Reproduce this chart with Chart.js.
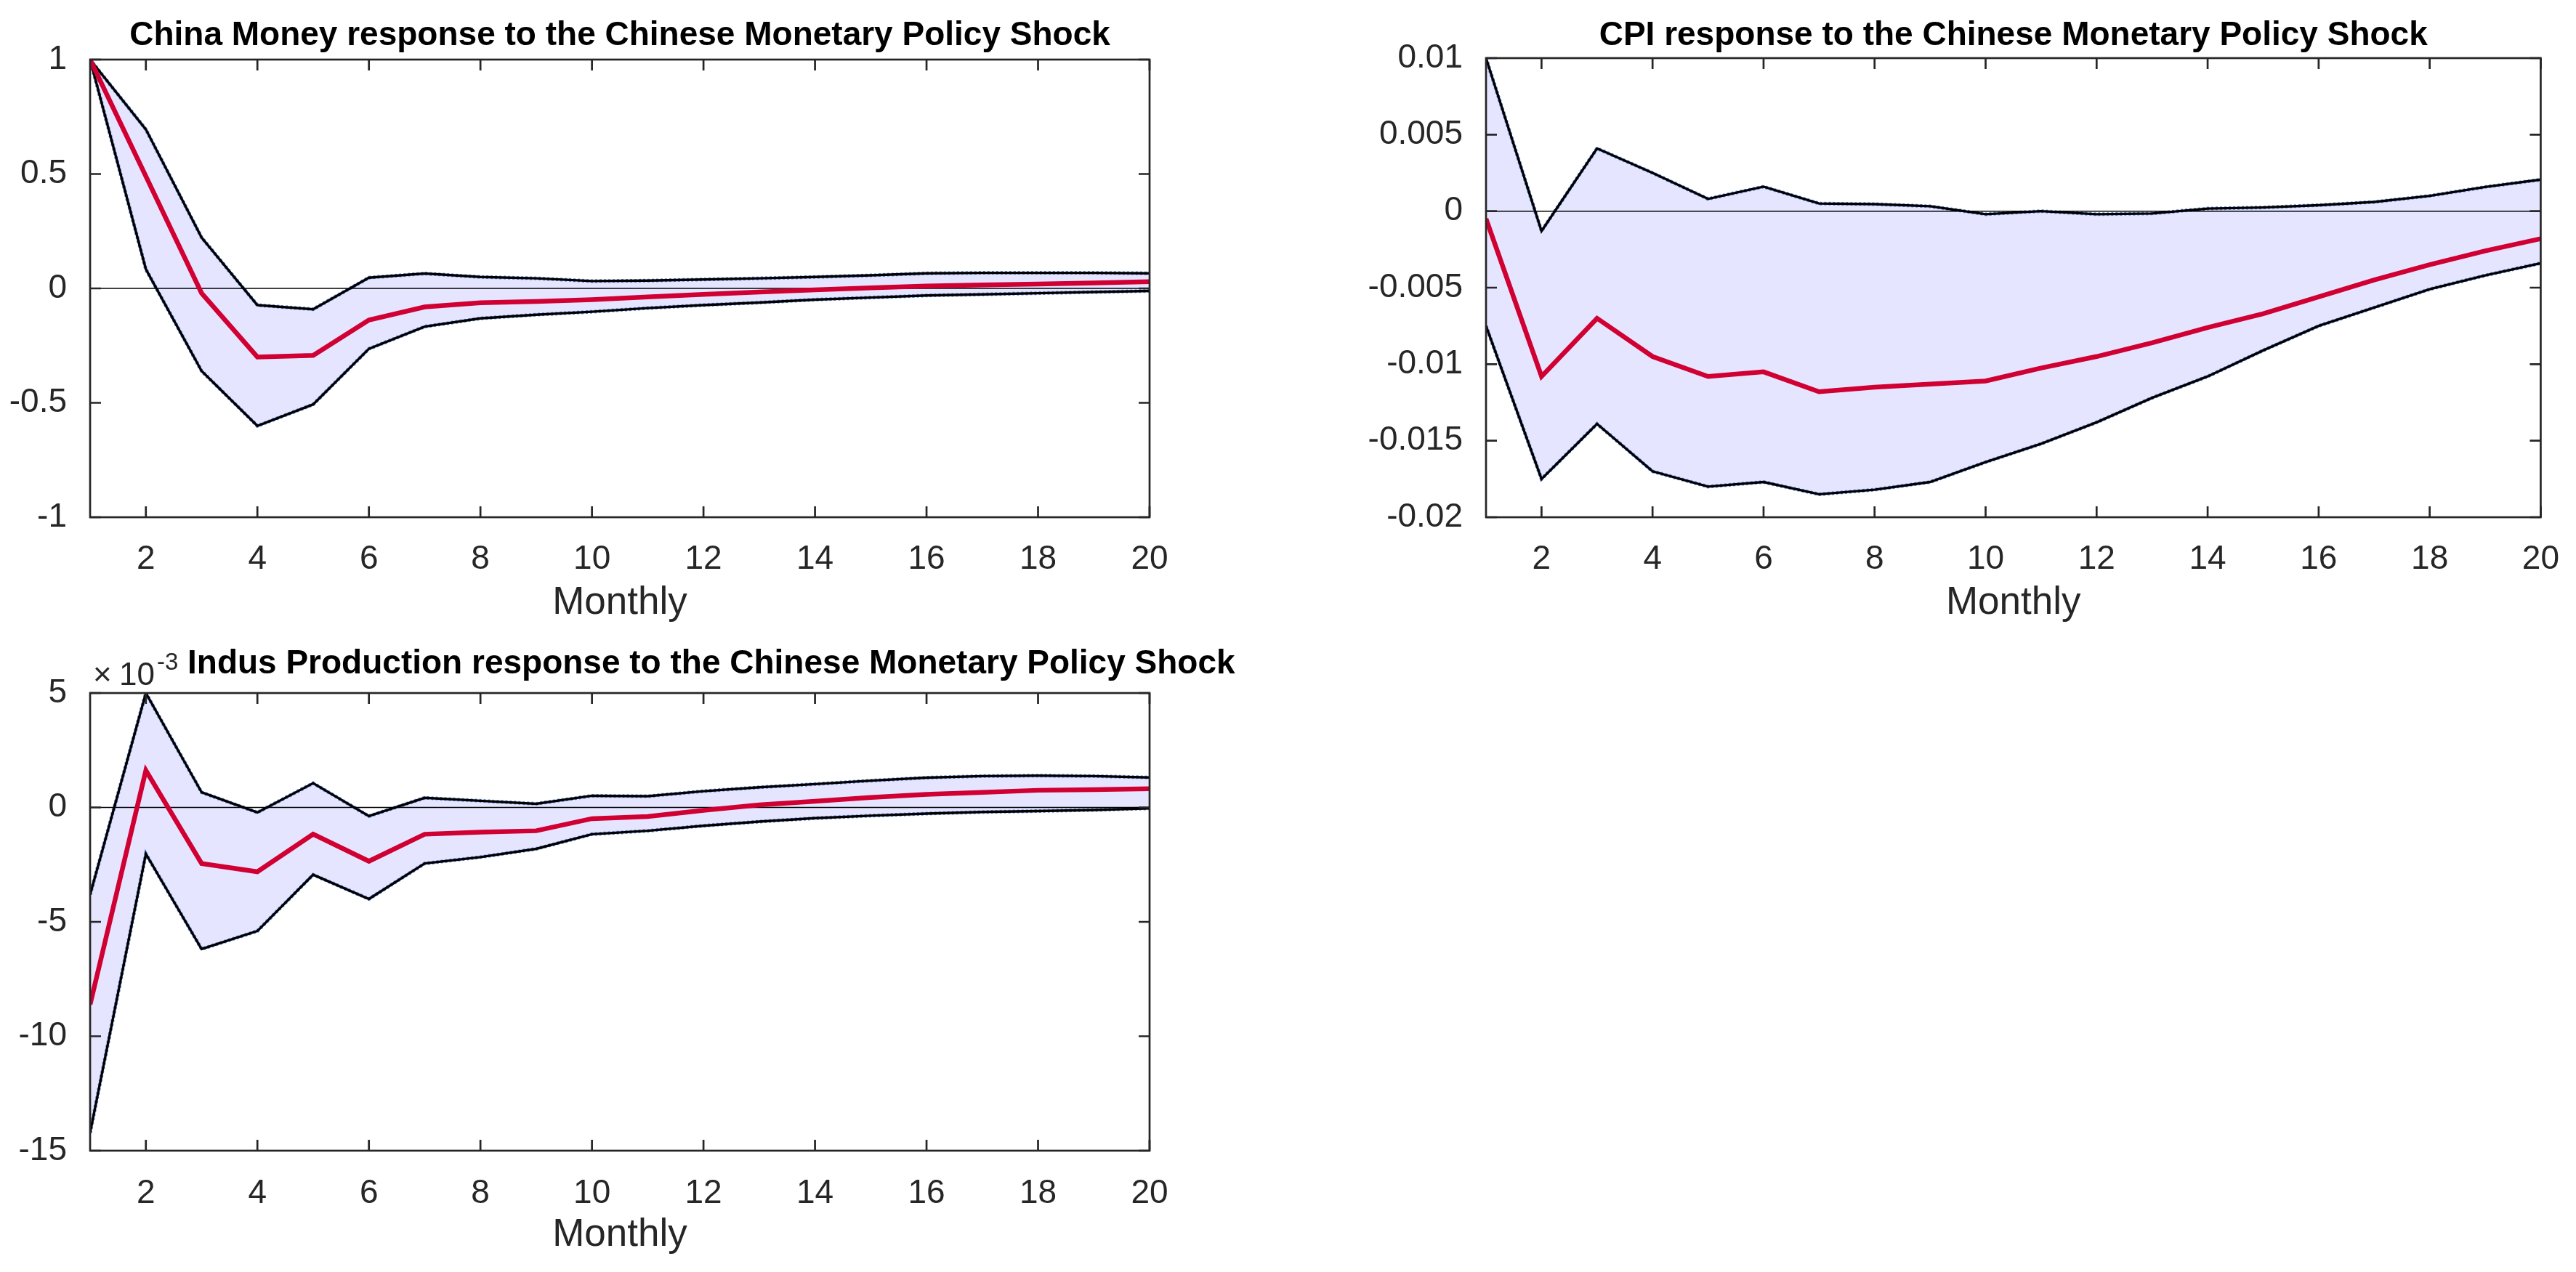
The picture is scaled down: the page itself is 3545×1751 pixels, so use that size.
<!DOCTYPE html>
<html>
<head>
<meta charset="utf-8">
<title>Impulse responses to the Chinese monetary policy shock</title>
<script src="https://cdn.jsdelivr.net/npm/chart.js@4.4.1/dist/chart.umd.min.js"></script>
<style>
  html, body { margin: 0; padding: 0; background: #fff; overflow: hidden; }
  body { width: 3545px; height: 1751px; position: relative; }
  canvas { position: absolute; }
</style>
</head>
<body>
<canvas id="money" width="1700" height="870" style="left:0;top:0"></canvas>
<canvas id="cpi" width="1795" height="870" style="left:1750px;top:0"></canvas>
<canvas id="indus" width="1700" height="881" style="left:0;top:870px"></canvas>
<script>
// horizon (months) and x tick labels
const months = [1, 2, 3, 4, 5, 6, 7, 8, 9, 10, 11, 12, 13, 14, 15, 16, 17, 18, 19, 20];
const xTicks = [2, 4, 6, 8, 10, 12, 14, 16, 18, 20];

// China Money response
const moneyUpper  = [1.0, 0.695, 0.222, -0.073, -0.091, 0.047, 0.065, 0.050, 0.044, 0.032, 0.034, 0.039, 0.044, 0.050, 0.057, 0.066, 0.068, 0.068, 0.068, 0.066];
const moneyMedian = [1.0, 0.490, -0.021, -0.300, -0.293, -0.138, -0.081, -0.063, -0.057, -0.049, -0.037, -0.026, -0.016, -0.006, 0.002, 0.010, 0.015, 0.019, 0.024, 0.029];
const moneyLower  = [1.0, 0.084, -0.361, -0.601, -0.507, -0.264, -0.167, -0.131, -0.115, -0.102, -0.086, -0.073, -0.062, -0.049, -0.040, -0.031, -0.026, -0.021, -0.016, -0.011];
const moneyTicks  = [-1, -0.5, 0, 0.5, 1];

// CPI response
const cpiUpper  = [0.0100, -0.0013, 0.0041, 0.0025, 0.0008, 0.0016, 0.0005, 0.00046, 0.00032, -0.0002, 0.0, -0.0002, -0.00015, 0.00017, 0.00024, 0.00039, 0.0006, 0.0010, 0.00158, 0.00206];
const cpiMedian = [-0.0005, -0.0108, -0.0070, -0.0095, -0.0108, -0.0105, -0.0118, -0.0115, -0.0113, -0.0111, -0.01025, -0.0095, -0.0086, -0.0076, -0.0067, -0.0056, -0.0045, -0.0035, -0.0026, -0.0018];
const cpiLower  = [-0.0075, -0.0175, -0.0139, -0.0170, -0.0180, -0.0177, -0.0185, -0.0182, -0.0177, -0.0164, -0.0152, -0.0138, -0.0122, -0.0108, -0.0091, -0.0075, -0.0063, -0.0051, -0.0042, -0.0034];
const cpiTicks  = [-0.02, -0.015, -0.01, -0.005, 0, 0.005, 0.01];

// Industrial production response, in units of 10^-3
const indusUpper  = [-3.81, 5.0, 0.66, -0.22, 1.06, -0.38, 0.42, 0.29, 0.16, 0.51, 0.49, 0.71, 0.88, 1.02, 1.17, 1.30, 1.37, 1.39, 1.37, 1.31];
const indusMedian = [-8.61, 1.62, -2.45, -2.81, -1.17, -2.35, -1.17, -1.08, -1.02, -0.49, -0.40, -0.13, 0.11, 0.27, 0.44, 0.57, 0.66, 0.75, 0.78, 0.82];
const indusLower  = [-14.22, -2.03, -6.19, -5.40, -2.94, -4.00, -2.45, -2.17, -1.81, -1.17, -1.02, -0.80, -0.62, -0.47, -0.36, -0.27, -0.20, -0.16, -0.11, -0.04];
const indusTicks  = [-15, -10, -5, 0, 5];

const AXIS = '#262626';
const BAND = '#e5e5ff';
const RED = 'rgb(208, 0, 50)';
const FONT = '"Liberation Sans", Arial, Helvetica, sans-serif';

function pts(values) {
    return months.map((m, i) => ({ x: m, y: values[i] }));
}

// thin zero line over the band fill but under the response lines
const zeroLinePlugin = {
    id: 'zeroLine',
    afterDatasetDraw(chart, args) {
        if (args.index !== 0) return;
        const { ctx, chartArea: a, scales: { y } } = chart;
        const py = y.getPixelForValue(0);
        ctx.save();
        ctx.strokeStyle = '#000';
        ctx.lineWidth = 1.5;
        ctx.beginPath();
        ctx.moveTo(a.left, py);
        ctx.lineTo(a.right, py);
        ctx.stroke();
        ctx.restore();
    }
};

// box round the plot and inward tick marks on all four sides, like matlab
const framePlugin = {
    id: 'frame',
    afterDatasetsDraw(chart) {
        const { ctx, chartArea: a, scales: { x, y } } = chart;
        const len = 15;
        ctx.save();
        ctx.strokeStyle = AXIS;
        ctx.lineWidth = 2.7;
        ctx.beginPath();
        x.ticks.forEach(t => {
            const px = x.getPixelForValue(t.value);
            ctx.moveTo(px, a.bottom); ctx.lineTo(px, a.bottom - len);
            ctx.moveTo(px, a.top); ctx.lineTo(px, a.top + len);
        });
        y.ticks.forEach(t => {
            const py = y.getPixelForValue(t.value);
            ctx.moveTo(a.left, py); ctx.lineTo(a.left + len, py);
            ctx.moveTo(a.right, py); ctx.lineTo(a.right - len, py);
        });
        ctx.stroke();
        ctx.strokeRect(a.left, a.top, a.right - a.left, a.bottom - a.top);
        ctx.restore();
    }
};

// panel title (and the x10^-3 exponent when there is one)
const titlePlugin = {
    id: 'panelTitle',
    afterDraw(chart, args, opts) {
        const { ctx, chartArea: a } = chart;
        ctx.save();
        ctx.fillStyle = '#000';
        ctx.font = 'bold 46px ' + FONT;
        ctx.textBaseline = 'alphabetic';
        if (opts.align === 'left') {
            ctx.textAlign = 'left';
            ctx.fillText(opts.text, a.left + opts.dx, opts.baseline);
        } else {
            ctx.textAlign = 'center';
            ctx.fillText(opts.text, (a.left + a.right) / 2 + (opts.dx || 0), opts.baseline);
        }
        if (opts.exponent) {
            ctx.fillStyle = AXIS;
            ctx.textAlign = 'left';
            ctx.font = '44px ' + FONT;
            ctx.fillText('\u00d7', a.left + 4, a.top - 11);
            ctx.fillText('10', a.left + 40, a.top - 11);
            ctx.font = '33px ' + FONT;
            ctx.fillText(opts.exponent, a.left + 92, a.top - 32);
        }
        ctx.restore();
    }
};

function makePanel(id, cfg) {
    const ctx = document.getElementById(id).getContext('2d');
    return new Chart(ctx, {
        type: 'line',
        data: {
            datasets: [
                // band edges (blue dotted patch outline) and the band fill, drawn first
                { data: pts(cfg.upper), borderColor: '#5b86e0', borderWidth: 5, borderDash: [3, 3], fill: false, order: 3 },
                { data: pts(cfg.lower), borderColor: '#5b86e0', borderWidth: 5, borderDash: [3, 3], fill: '-1', backgroundColor: BAND, order: 3 },
                // error bands
                { data: pts(cfg.upper), borderColor: '#000', borderWidth: 3.4, fill: false, order: 2 },
                { data: pts(cfg.lower), borderColor: '#000', borderWidth: 3.4, fill: false, order: 2 },
                // median response on top
                { data: pts(cfg.median), borderColor: RED, borderWidth: 6.5, fill: false, order: 1 }
            ]
        },
        options: {
            responsive: false,
            animation: false,
            devicePixelRatio: 1,
            layout: { padding: cfg.padding },
            elements: { point: { radius: 0 }, line: { tension: 0 } },
            plugins: {
                legend: { display: false },
                tooltip: { enabled: false },
                panelTitle: cfg.title
            },
            scales: {
                x: {
                    type: 'linear',
                    min: 1,
                    max: 20,
                    afterBuildTicks: s => { s.ticks = xTicks.map(v => ({ value: v })); },
                    afterFit: s => { s.height = cfg.xHeight; },
                    grid: { display: false },
                    border: { display: false },
                    ticks: { color: AXIS, font: { family: FONT, size: 46 }, padding: cfg.xPad, maxRotation: 0, autoSkip: false },
                    title: { display: true, text: 'Monthly', color: AXIS, font: { family: FONT, size: 53 }, padding: { top: 0, bottom: cfg.titlePad } }
                },
                y: {
                    type: 'linear',
                    min: cfg.yTicks[0],
                    max: cfg.yTicks[cfg.yTicks.length - 1],
                    afterBuildTicks: s => { s.ticks = cfg.yTicks.map(v => ({ value: v })); },
                    afterFit: s => { s.width = cfg.yWidth; },
                    grid: { display: false },
                    border: { display: false },
                    ticks: { color: AXIS, font: { family: FONT, size: 46 }, padding: 24, callback: v => String(v) }
                }
            }
        },
        plugins: [zeroLinePlugin, framePlugin, titlePlugin]
    });
}

makePanel('money', {
    upper: moneyUpper, median: moneyMedian, lower: moneyLower, yTicks: moneyTicks,
    padding: { left: 0, right: 118, top: 82, bottom: 0 },
    yWidth: 124, xHeight: 158, xPad: 23, titlePad: 8,
    title: { text: 'China Money response to the Chinese Monetary Policy Shock', baseline: 62 }
});

makePanel('cpi', {
    upper: cpiUpper, median: cpiMedian, lower: cpiLower, yTicks: cpiTicks,
    padding: { left: 0, right: 45, top: 80, bottom: 0 },
    yWidth: 295, xHeight: 158, xPad: 23, titlePad: 8,
    title: { text: 'CPI response to the Chinese Monetary Policy Shock', baseline: 62 }
});

makePanel('indus', {
    upper: indusUpper, median: indusMedian, lower: indusLower, yTicks: indusTicks,
    padding: { left: 0, right: 118, top: 84, bottom: 0 },
    yWidth: 124, xHeight: 167, xPad: 24, titlePad: 19,
    title: { text: 'Indus Production response to the Chinese Monetary Policy Shock', baseline: 57, align: 'left', dx: 134, exponent: '-3' }
});
</script>
</body>
</html>
